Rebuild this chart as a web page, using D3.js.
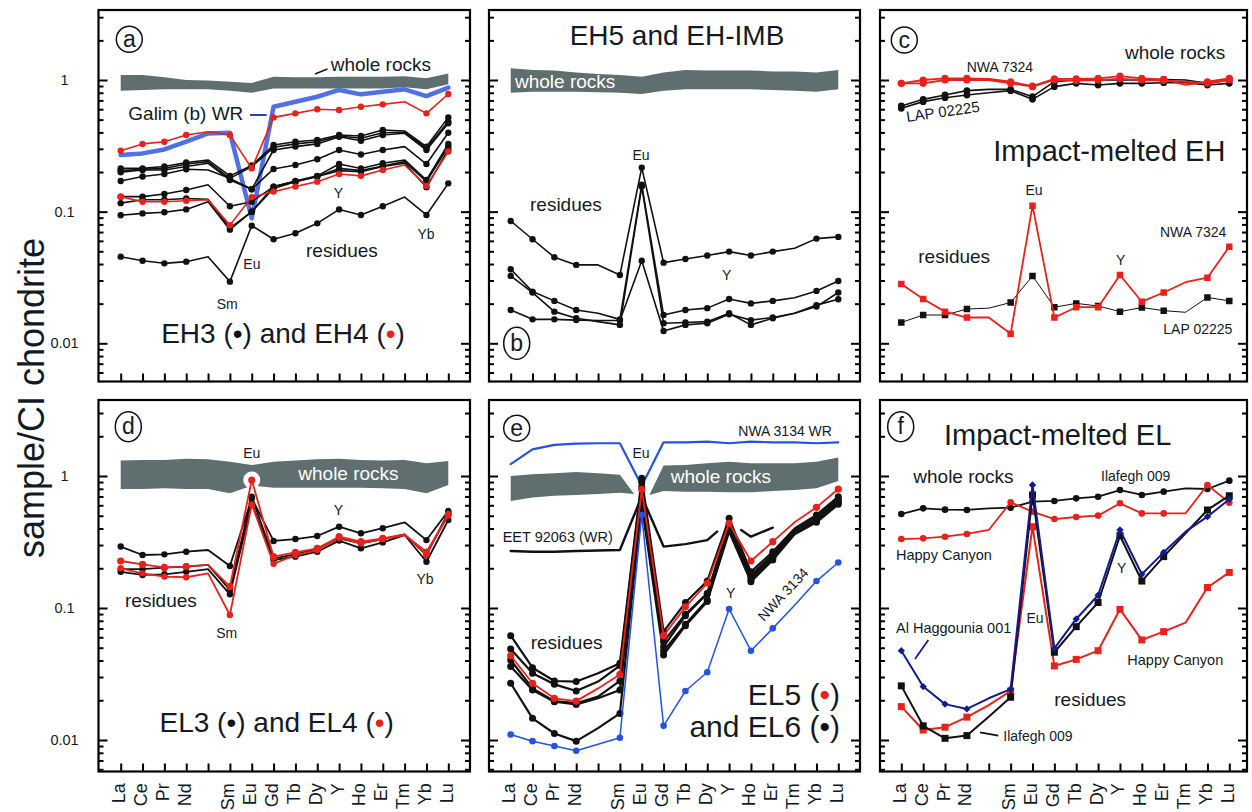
<!DOCTYPE html>
<html>
<head>
<meta charset="utf-8">
<script src="https://cdn.jsdelivr.net/npm/d3@7"></script>
<style>
  body { margin: 0; background: #fff; }
  svg { display: block; font-family: "Liberation Sans", Arial, Helvetica, sans-serif; }
</style>
</head>
<body>
<svg id="chart" width="1252" height="812"></svg>
<script>
// ---------- Rare-earth sequence (Pm keeps its slot on the axis) ----------
const elements = ["La","Ce","Pr","Nd","Pm","Sm","Eu","Gd","Tb","Dy","Y","Ho","Er","Tm","Yb","Lu"];
const unmarked = ["Pm","Tm"];          // interpolated, no symbol drawn
const yTickValues = [1, 0.1, 0.01];
const yTickText = ["1", "0.1", "0.01"];

// ---------- (a) EH3 and EH4 ----------
const aWholeRockHi = [1.09,1.09,1.05,1.00,0.99,0.97,0.95,1.06,1.05,1.05,1.06,1.06,1.06,1.07,1.03,1.12];
const aWholeRockLo = [0.83,0.84,0.85,0.85,0.85,0.83,0.80,0.86,0.86,0.86,0.86,0.86,0.86,0.88,0.85,0.93];
const aGalimWR = [0.269,0.277,0.297,0.340,0.393,0.398,0.089,0.627,0.684,0.746,0.840,0.778,0.815,0.849,0.755,0.875];
const aEH4_1 = [0.290,0.327,0.340,0.382,0.405,0.382,0.213,0.520,0.558,0.599,0.592,0.627,0.653,0.684,0.558,0.783];
const aEH4_2 = [0.130,0.119,0.119,0.121,0.123,0.079,0.129,0.142,0.155,0.169,0.193,0.187,0.207,0.226,0.157,0.286];
const aEH3_1 = [0.213,0.213,0.220,0.236,0.247,0.187,0.224,0.321,0.340,0.350,0.382,0.376,0.417,0.410,0.312,0.520];
const aEH3_2 = [0.205,0.210,0.213,0.230,0.240,0.179,0.220,0.308,0.327,0.340,0.376,0.361,0.398,0.401,0.303,0.483];
const aEH3_3 = [0.199,0.207,0.207,0.220,0.233,0.174,0.148,0.294,0.312,0.327,0.371,0.346,0.382,0.394,0.294,0.469];
const aEH3_4 = [0.171,0.185,0.193,0.210,0.207,0.179,0.148,0.211,0.226,0.250,0.294,0.272,0.294,0.312,0.230,0.398];
const aEH3_5 = [0.130,0.130,0.136,0.146,0.160,0.110,0.119,0.155,0.171,0.187,0.230,0.213,0.233,0.247,0.174,0.327];
const aEH3_6 = [0.116,0.123,0.123,0.126,0.124,0.075,0.100,0.150,0.169,0.185,0.213,0.205,0.222,0.240,0.169,0.312];
const aEH3_7 = [0.094,0.097,0.099,0.104,0.119,0.073,0.100,0.155,0.169,0.185,0.205,0.201,0.220,0.233,0.153,0.297];
const aEH3_8 = [0.0455,0.0424,0.0405,0.0417,0.0455,0.0294,0.0783,0.0617,0.0685,0.0815,0.104,0.0944,0.110,0.129,0.0944,0.164];

// ---------- (b) EH5 and EH-IMB ----------
const bWholeRockHi = [1.23,1.19,1.18,1.14,1.11,1.09,1.06,1.14,1.19,1.18,1.18,1.18,1.16,1.16,1.14,1.19];
const bWholeRockLo = [0.80,0.815,0.815,0.815,0.806,0.80,0.783,0.83,0.85,0.85,0.85,0.85,0.84,0.83,0.815,0.85];
const bRes1 = [0.0849,0.0617,0.0450,0.0394,0.0394,0.0330,0.216,0.0410,0.0437,0.0464,0.0497,0.0464,0.0497,0.0527,0.0624,0.0643];
const bRes2 = [0.0365,0.0247,0.0210,0.0179,0.0169,0.0152,0.160,0.0164,0.0179,0.0185,0.0217,0.0201,0.0210,0.0222,0.0250,0.0297];
const bRes3 = [0.0325,0.0243,0.0174,0.0155,0.0146,0.0138,0.155,0.0142,0.0144,0.0146,0.0169,0.0138,0.0155,0.0169,0.0190,0.0243];
const bRes4 = [0.0179,0.0152,0.0152,0.0150,0.0149,0.0149,0.0424,0.0124,0.0138,0.0142,0.0166,0.0150,0.0157,0.0169,0.0195,0.0216];

// ---------- (c) Impact-melted EH ----------
const cNWA7324WR_1 = [0.943,1.0,1.03,1.03,1.02,0.97,0.90,1.02,1.02,1.03,1.07,1.03,1.01,0.92,0.97,1.03];
const cNWA7324WR_2 = [0.943,0.943,1.0,1.0,1.0,0.943,0.89,1.0,0.99,1.0,1.02,1.0,0.99,0.97,0.943,1.0];
const cLAP02225WR_1 = [0.635,0.713,0.769,0.830,0.849,0.849,0.747,0.971,1.0,1.0,1.0,1.0,1.01,1.0,0.943,1.0];
const cLAP02225WR_2 = [0.609,0.685,0.734,0.769,0.801,0.830,0.713,0.890,0.943,0.916,0.943,0.943,0.954,0.954,0.916,0.943];
const cNWA7324Res = [0.0282,0.0217,0.0174,0.0157,0.0157,0.0118,0.111,0.0157,0.0188,0.0188,0.0330,0.0207,0.0243,0.0291,0.0315,0.0542];
const cLAP02225Res = [0.0144,0.0164,0.0164,0.0182,0.0185,0.0204,0.0325,0.0188,0.0201,0.0192,0.0174,0.0187,0.0177,0.0172,0.0223,0.0210];

// ---------- (d) EL3 and EL4 ----------
const dWholeRockHi = [1.31,1.32,1.32,1.35,1.34,1.28,1.21,1.28,1.31,1.34,1.35,1.32,1.31,1.32,1.25,1.30];
const dWholeRockLo = [0.797,0.797,0.807,0.797,0.797,0.739,0.845,0.816,0.816,0.816,0.816,0.816,0.807,0.797,0.739,0.855];
const dEL3_1 = [0.292,0.252,0.255,0.267,0.275,0.208,0.677,0.322,0.333,0.351,0.413,0.368,0.402,0.446,0.327,0.543];
const dEL3_2 = [0.197,0.197,0.202,0.206,0.212,0.137,0.697,0.238,0.255,0.280,0.337,0.309,0.333,0.361,0.252,0.531];
const dEL3_3 = [0.188,0.178,0.180,0.188,0.197,0.127,0.621,0.231,0.245,0.267,0.324,0.283,0.314,0.357,0.224,0.464];
const dEL4_1 = [0.227,0.214,0.203,0.206,0.212,0.145,0.933,0.245,0.264,0.283,0.347,0.318,0.337,0.361,0.255,0.513];
const dEL4_2 = [0.200,0.183,0.173,0.171,0.183,0.0885,0.610,0.216,0.252,0.275,0.341,0.309,0.333,0.357,0.267,0.501];

// ---------- (e) EL5 and EL6 ----------
const eNWA3134WR = [1.23,1.59,1.72,1.76,1.77,1.77,0.845,1.80,1.80,1.82,1.77,1.82,1.80,1.80,1.77,1.80];
// whole-rock field is broken around Eu: positions in element-index units
const eBandLeftPos = [0,1,2,3,4,5,5.65];
const eBandLeftHi  = [1.00,1.03,1.05,1.07,1.05,1.02,0.731];
const eBandLeftLo  = [0.647,0.686,0.710,0.718,0.731,0.748,0.731];
const eBandRightPos = [6.35,7,8,9,10,11,12,13,14,15];
const eBandRightHi  = [0.718,1.20,1.21,1.25,1.28,1.25,1.25,1.25,1.28,1.38];
const eBandRightLo  = [0.718,0.770,0.761,0.761,0.752,0.752,0.770,0.783,0.807,0.917];
const eEET92063Pos = [0,1,2,3,4,5,6,7,8,9,9.45,10,10.55,11,12];
const eEET92063WR  = [0.270,0.267,0.267,0.270,0.273,0.275,0.70,0.292,0.305,0.327,0.379,null,0.390,0.347,0.406];
const eEL5 = [0.0435,0.0269,0.0207,0.0197,0.0246,0.0314,0.792,0.0617,0.102,0.154,0.438,0.227,0.318,0.446,0.579,0.797];
const eEL6_1 = [0.0617,0.0353,0.0280,0.0277,0.0320,0.0381,0.960,0.0662,0.110,0.160,0.478,0.188,0.267,0.401,0.507,0.697];
const eEL6_2 = [0.0489,0.0320,0.0264,0.0235,0.0277,0.0366,0.896,0.0556,0.0896,0.129,0.426,0.178,0.255,0.390,0.492,0.670];
const eEL6_3 = [0.0404,0.0246,0.0197,0.0190,0.0213,0.0280,0.830,0.0472,0.0752,0.115,0.390,0.163,0.238,0.374,0.456,0.632];
const eEL6_4 = [0.0360,0.0239,0.0195,0.0186,0.0207,0.0239,0.603,0.0441,0.0735,0.112,0.379,0.158,0.231,0.361,0.446,0.610];
const eEL6_5 = [0.0269,0.0146,0.0112,0.0098,0.0123,0.0159,0.621,0.0509,0.0875,0.129,0.406,0.170,0.245,0.379,0.472,0.647];
const eNWA3134Res = [0.0110,0.0098,0.0090,0.0083,0.0093,0.0104,0.507,0.0128,0.0235,0.0326,0.0983,0.0475,0.0701,0.105,0.160,0.221];

// ---------- (f) Impact-melted EL ----------
const fIlafeghWR = [0.515,0.569,0.556,0.553,0.569,0.575,0.639,0.647,0.677,0.697,0.783,0.718,0.761,0.807,0.797,0.922];
const fHappyCanyonWR = [0.333,0.337,0.347,0.364,0.390,0.632,0.537,0.472,0.489,0.501,0.621,0.521,0.521,0.521,0.855,0.628];
const fAlHaggouniaRes = [0.0475,0.0254,0.0187,0.0172,0.0207,0.0243,0.855,0.0495,0.0826,0.125,0.390,0.180,0.264,0.379,0.492,0.666];
const fIlafeghRes = [0.0257,0.0128,0.0103,0.0108,0.0150,0.0211,0.718,0.0462,0.0722,0.110,0.353,0.160,0.245,0.368,0.553,0.710];
const fHappyCanyonRes = [0.0179,0.0119,0.0125,0.0149,0.0184,0.0235,0.413,0.0364,0.0408,0.0475,0.0977,0.0573,0.0662,0.0774,0.143,0.186];

// ---------- styling ----------
const BLACK = "#111111", RED = "#e8211b", BAND = "#5f6e6e";
const GALIM = "#5070e6", BLUE = "#2353e0", NAVY = "#141c8c", TEXT = "#141a24";

// panel frames and scale anchors (pixels)
const cols = [
  { x0: 98.5, x1: 470,  la: 120.7, lu: 448.3 },
  { x0: 489,  x1: 860,  la: 510.7, lu: 838.3 },
  { x0: 880,  x1: 1247, la: 901.3, lu: 1229.3 }
];
const rows = [
  { y0: 10,  y1: 381.5, yOne: 80,  yHundredth: 343.3 },
  { y0: 400, y1: 771.5, yOne: 476, yHundredth: 740 }
];

const svg = d3.select("#chart");
const defs = svg.append("defs");

const blk = (values, extra) => Object.assign({ values, color: BLACK, w: 1.6, mk: "circle", ms: 3.2 }, extra || {});
const red = (values, extra) => Object.assign({ values, color: RED, w: 1.6, mk: "circle", ms: 3.2 }, extra || {});

const panels = [
  { id: "a", col: 0, row: 0,
    layers: [
      { band: { hi: aWholeRockHi, lo: aWholeRockLo } },
      { values: aGalimWR, color: GALIM, w: 4.5 },
      blk(aEH3_8), blk(aEH3_7), blk(aEH3_6), blk(aEH3_5),
      blk(aEH3_4), blk(aEH3_3), blk(aEH3_2), blk(aEH3_1),
      red(aEH4_2), red(aEH4_1)
    ],
    lines: [
      { p: [[315, 74], [327.5, 69]], color: BLACK, w: 1.5 },
      { p: [[250, 115], [266.7, 115]], color: "#1a2e9e", w: 1.8 }
    ],
    labels: [
      { t: "whole rocks", x: 330.7, y: 71, s: 19 },
      { t: "Galim (b) WR", x: 128.3, y: 120, s: 19 },
      { t: "Y", x: 338.3, y: 198, s: 14, a: "middle" },
      { t: "Yb", x: 426, y: 239, s: 14, a: "middle" },
      { t: "residues", x: 306, y: 257, s: 19 },
      { t: "Eu", x: 243.3, y: 269, s: 14 },
      { t: "Sm", x: 216.7, y: 309, s: 14 },
      { parts: [{ t: "EH3 (" }, { t: "•", c: BLACK }, { t: ") and EH4 (" }, { t: "•", c: RED }, { t: ")" }], x: 283, y: 343, s: 28, a: "middle" }
    ],
    tag: { t: "a", x: 129.3, y: 39.3, rx: 13, ry: 13 }
  },
  { id: "b", col: 1, row: 0,
    layers: [
      { band: { hi: bWholeRockHi, lo: bWholeRockLo } },
      blk(bRes4), blk(bRes3), blk(bRes2), blk(bRes1)
    ],
    labels: [
      { t: "EH5 and EH-IMB", x: 677, y: 45, s: 28, a: "middle" },
      { t: "whole rocks", x: 515, y: 87.5, s: 19, fill: "#ffffff" },
      { t: "Eu", x: 641, y: 160, s: 14, a: "middle" },
      { t: "residues", x: 530, y: 210.5, s: 19 },
      { t: "Y", x: 726.7, y: 280, s: 14, a: "middle" }
    ],
    tag: { t: "b", x: 516.7, y: 343.3, rx: 13, ry: 16 }
  },
  { id: "c", col: 2, row: 0,
    layers: [
      blk(cLAP02225WR_2, { w: 1.6, ms: 3.4 }), blk(cLAP02225WR_1, { w: 1.6, ms: 3.4 }),
      red(cNWA7324WR_2, { w: 1.8, ms: 3.6 }), red(cNWA7324WR_1, { w: 1.8, ms: 3.6 }),
      blk(cLAP02225Res, { w: 1, mk: "square", ms: 6.5 }),
      red(cNWA7324Res, { w: 1.8, mk: "square", ms: 6.5 })
    ],
    labels: [
      { t: "whole rocks", x: 1125, y: 59, s: 19 },
      { t: "NWA 7324", x: 966.7, y: 71.5, s: 14 },
      { t: "LAP 02225", x: 907, y: 122, s: 15, rot: -8 },
      { t: "Impact-melted EH", x: 993.3, y: 160.5, s: 29 },
      { t: "Eu", x: 1034, y: 195, s: 14, a: "middle" },
      { t: "NWA 7324", x: 1160, y: 236.5, s: 14 },
      { t: "residues", x: 918.3, y: 263, s: 19 },
      { t: "Y", x: 1120.7, y: 265, s: 14, a: "middle" },
      { t: "LAP 02225", x: 1163.3, y: 333.5, s: 14 }
    ],
    tag: { t: "c", x: 904.3, y: 40, rx: 13, ry: 13 }
  },
  { id: "d", col: 0, row: 1,
    layers: [
      { band: { hi: dWholeRockHi, lo: dWholeRockLo } },
      { halo: dEL4_1, at: "Eu", r: 8.5 },
      blk(dEL3_1, { w: 1.8 }), blk(dEL3_3, { w: 1.8 }), blk(dEL3_2, { w: 1.8 }),
      red(dEL4_2, { w: 1.8 }), red(dEL4_1, { w: 1.8, ms: 3.6 })
    ],
    labels: [
      { t: "Eu", x: 251.7, y: 458, s: 14, a: "middle" },
      { t: "whole rocks", x: 298.3, y: 480, s: 19, fill: "#ffffff" },
      { t: "Y", x: 338.3, y: 515, s: 14, a: "middle" },
      { t: "Yb", x: 425, y: 584, s: 14, a: "middle" },
      { t: "residues", x: 125, y: 607, s: 19 },
      { t: "Sm", x: 226.7, y: 638, s: 14, a: "middle" },
      { parts: [{ t: "EL3 (" }, { t: "•", c: BLACK }, { t: ") and EL4 (" }, { t: "•", c: RED }, { t: ")" }], x: 276.7, y: 732, s: 28, a: "middle" }
    ],
    tag: { t: "d", x: 128.3, y: 426.7, rx: 13, ry: 15 }
  },
  { id: "e", col: 1, row: 1,
    layers: [
      { values: eNWA3134WR, color: BLUE, w: 2.2 },
      { band: { pos: eBandLeftPos, hi: eBandLeftHi, lo: eBandLeftLo } },
      { band: { pos: eBandRightPos, hi: eBandRightHi, lo: eBandRightLo } },
      { values: eEET92063WR, pos: eEET92063Pos, color: BLACK, w: 2.4 },
      blk(eEL6_5, { w: 2.2, ms: 3.5 }), blk(eEL6_4, { w: 2.2, ms: 3.5 }), blk(eEL6_3, { w: 2.2, ms: 3.5 }),
      blk(eEL6_2, { w: 2.2, ms: 3.5 }), blk(eEL6_1, { w: 2.2, ms: 3.5 }),
      red(eEL5, { w: 1.8, ms: 3.6 }),
      { values: eNWA3134Res, color: BLUE, w: 1.5, mk: "circle", ms: 3.3 }
    ],
    labels: [
      { t: "NWA 3134 WR", x: 738.3, y: 435.5, s: 14 },
      { t: "Eu", x: 641, y: 458, s: 14, a: "middle" },
      { t: "whole rocks", x: 670.7, y: 483, s: 19, fill: "#ffffff" },
      { t: "EET 92063 (WR)", x: 502.7, y: 541.5, s: 14.5 },
      { t: "Y", x: 730.7, y: 598, s: 14, a: "middle" },
      { t: "NWA 3134", x: 764, y: 622, s: 14, rot: -47 },
      { t: "residues", x: 530.7, y: 649, s: 19 },
      { parts: [{ t: "EL5 (" }, { t: "•", c: RED }, { t: ")" }], x: 840, y: 705, s: 30, a: "end" },
      { parts: [{ t: "and EL6 (" }, { t: "•", c: BLACK }, { t: ")" }], x: 840, y: 737, s: 30, a: "end" }
    ],
    tag: { t: "e", x: 516.7, y: 428.3, rx: 13, ry: 13 }
  },
  { id: "f", col: 2, row: 1,
    layers: [
      blk(fIlafeghWR, { w: 1.8, ms: 3.3 }),
      red(fHappyCanyonWR, { w: 1.8, ms: 3.3 }),
      red(fHappyCanyonRes, { w: 2, mk: "square", ms: 7 }),
      blk(fIlafeghRes, { w: 2, mk: "square", ms: 7 }),
      { values: fAlHaggouniaRes, color: NAVY, w: 2, mk: "diamond", ms: 5.2 }
    ],
    lines: [
      { p: [[928.3, 640], [915, 659]], color: NAVY, w: 1.8 },
      { p: [[980, 732.3], [998.3, 735.7]], color: BLACK, w: 1.8 }
    ],
    labels: [
      { t: "Impact-melted EL", x: 944, y: 445, s: 29 },
      { t: "whole rocks", x: 913.3, y: 483, s: 19 },
      { t: "Ilafegh 009", x: 1101, y: 481, s: 14 },
      { t: "Happy Canyon", x: 896, y: 560, s: 14.5 },
      { t: "Y", x: 1121.7, y: 573, s: 14, a: "middle" },
      { t: "Eu", x: 1035, y: 622.5, s: 14, a: "middle" },
      { t: "Al Haggounia 001", x: 896, y: 632.5, s: 14.5 },
      { t: "Happy Canyon", x: 1127.3, y: 665, s: 14.5 },
      { t: "residues", x: 1054.3, y: 705.5, s: 19 },
      { t: "Ilafegh 009", x: 1003.3, y: 740.5, s: 14 }
    ],
    tag: { t: "f", x: 900.7, y: 426.7, rx: 13, ry: 15 }
  }
];

// log-spaced tick values 1..9 x 10^e
const tickPool = [];
for (let e = -4; e <= 1; e++) for (let k = 1; k <= 9; k++) tickPool.push({ v: +(k * Math.pow(10, e)).toPrecision(3), major: k === 1 });

function styleAxis(g) {
  g.select(".domain").remove();
  g.selectAll(".tick line").attr("stroke", "#000").attr("stroke-width", 2);
  g.selectAll(".tick text").remove();
}

function drawPanel(p) {
  const c = cols[p.col], r = rows[p.row];
  const x = d3.scaleLinear().domain([0, elements.length - 1]).range([c.la, c.lu]);
  const y = d3.scaleLog().domain([0.01, 1]).range([r.yHundredth, r.yOne]);
  const g = svg.append("g").attr("class", "panel-" + p.id);

  defs.append("clipPath").attr("id", "clip-" + p.id)
    .append("rect").attr("x", c.x0).attr("y", r.y0).attr("width", c.x1 - c.x0).attr("height", r.y1 - r.y0);
  const plot = g.append("g").attr("clip-path", `url(#clip-${p.id})`);

  const lineGen = d3.line().defined(d => d[1] != null).x(d => x(d[0])).y(d => y(d[1]));
  const areaGen = d3.area().x(d => x(d[0])).y0(d => y(d[2])).y1(d => y(d[1]));

  p.layers.forEach(L => {
    if (L.band) {
      const pos = L.band.pos || elements.map((_, i) => i);
      const pts = pos.map((q, i) => [q, L.band.hi[i], L.band.lo[i]]);
      plot.append("path").attr("d", areaGen(pts)).attr("fill", BAND);
      return;
    }
    if (L.halo) {
      const i = elements.indexOf(L.at);
      plot.append("circle").attr("cx", x(i)).attr("cy", y(L.halo[i])).attr("r", L.r).attr("fill", "#fff");
      return;
    }
    const pos = L.pos || elements.map((_, i) => i);
    const pts = pos.map((q, i) => [q, L.values[i]]);
    plot.append("path").attr("d", lineGen(pts))
      .attr("fill", "none").attr("stroke", L.color).attr("stroke-width", L.w)
      .attr("stroke-linejoin", "round").attr("stroke-linecap", "round");
    if (L.mk) {
      // diamonds are squares turned by 45 degrees
      const shape = (L.mk === "square" || L.mk === "diamond") ? d3.symbolSquare : d3.symbolCircle;
      const size = (L.mk === "square" || L.mk === "diamond") ? L.ms * L.ms : Math.PI * L.ms * L.ms;
      const turn = L.mk === "diamond" ? " rotate(45)" : "";
      const sym = d3.symbol().type(shape).size(size);
      const marked = pts.filter(d => d[1] != null && Number.isInteger(d[0]) && !unmarked.includes(elements[d[0]]));
      plot.selectAll(null).data(marked).join("path")
        .attr("d", sym)
        .attr("transform", d => `translate(${x(d[0])},${y(d[1])})${turn}`)
        .attr("fill", L.color);
    }
  });

  // annotation strokes
  (p.lines || []).forEach(s => {
    g.append("line").attr("x1", s.p[0][0]).attr("y1", s.p[0][1]).attr("x2", s.p[1][0]).attr("y2", s.p[1][1])
      .attr("stroke", s.color).attr("stroke-width", s.w);
  });

  // inward log ticks on both vertical sides
  const inside = t => { const py = y(t.v); return py > r.y0 + 1.5 && py < r.y1 - 1.5; };
  const majors = tickPool.filter(t => t.major && inside(t)).map(t => t.v);
  const minors = tickPool.filter(t => !t.major && inside(t)).map(t => t.v);
  [[majors, 9], [minors, 5]].forEach(([vals, len]) => {
    g.append("g").attr("transform", `translate(${c.x0},0)`)
      .call(d3.axisRight(y).tickValues(vals).tickSize(len).tickFormat("")).call(styleAxis);
    g.append("g").attr("transform", `translate(${c.x1},0)`)
      .call(d3.axisLeft(y).tickValues(vals).tickSize(len).tickFormat("")).call(styleAxis);
  });
  // element ticks along the bottom, pointing up
  g.append("g").attr("transform", `translate(0,${r.y1})`)
    .call(d3.axisTop(x).tickValues(d3.range(elements.length)).tickSize(8).tickFormat("")).call(styleAxis);

  // frame
  g.append("rect").attr("x", c.x0).attr("y", r.y0).attr("width", c.x1 - c.x0).attr("height", r.y1 - r.y0)
    .attr("fill", "none").attr("stroke", "#000").attr("stroke-width", 2.2);

  // element names under the bottom row
  if (p.row === 1) {
    elements.forEach((el, i) => {
      if (el === "Pm") return;
      const px = x(i) + 4.5, py = 783.3;
      g.append("text").attr("transform", `translate(${px},${py}) rotate(-90)`)
        .attr("text-anchor", "end").attr("font-size", 18).attr("fill", TEXT).text(el);
    });
  }
  // decade labels on the left column
  if (p.col === 0) {
    yTickValues.forEach((v, i) => {
      g.append("text").attr("x", 64.5).attr("y", y(v) + 5).attr("text-anchor", "middle")
        .attr("font-size", 14.5).attr("fill", TEXT).text(yTickText[i]);
    });
  }

  // text annotations
  p.labels.forEach(L => {
    const t = g.append("text").attr("x", L.x).attr("y", L.y).attr("font-size", L.s)
      .attr("text-anchor", L.a || "start").attr("fill", L.fill || TEXT);
    if (L.rot != null) t.attr("transform", `rotate(${L.rot},${L.x},${L.y})`);
    if (L.parts) L.parts.forEach(pt => t.append("tspan").attr("fill", pt.c || null).text(pt.t));
    else t.text(L.t);
  });

  // circled panel letter
  const tg = g.append("g");
  tg.append("ellipse").attr("cx", p.tag.x).attr("cy", p.tag.y).attr("rx", p.tag.rx).attr("ry", p.tag.ry)
    .attr("fill", "#fff").attr("stroke", "#111").attr("stroke-width", 1.5);
  tg.append("text").attr("x", p.tag.x).attr("y", p.tag.y + 7.5).attr("text-anchor", "middle")
    .attr("font-size", 23).attr("fill", TEXT).text(p.tag.t);
}

panels.forEach(drawPanel);

// shared y title
svg.append("text").attr("transform", "translate(44,398) rotate(-90)")
  .attr("text-anchor", "middle").attr("font-size", 36).attr("fill", TEXT).text("sample/CI chondrite");
</script>
</body>
</html>
